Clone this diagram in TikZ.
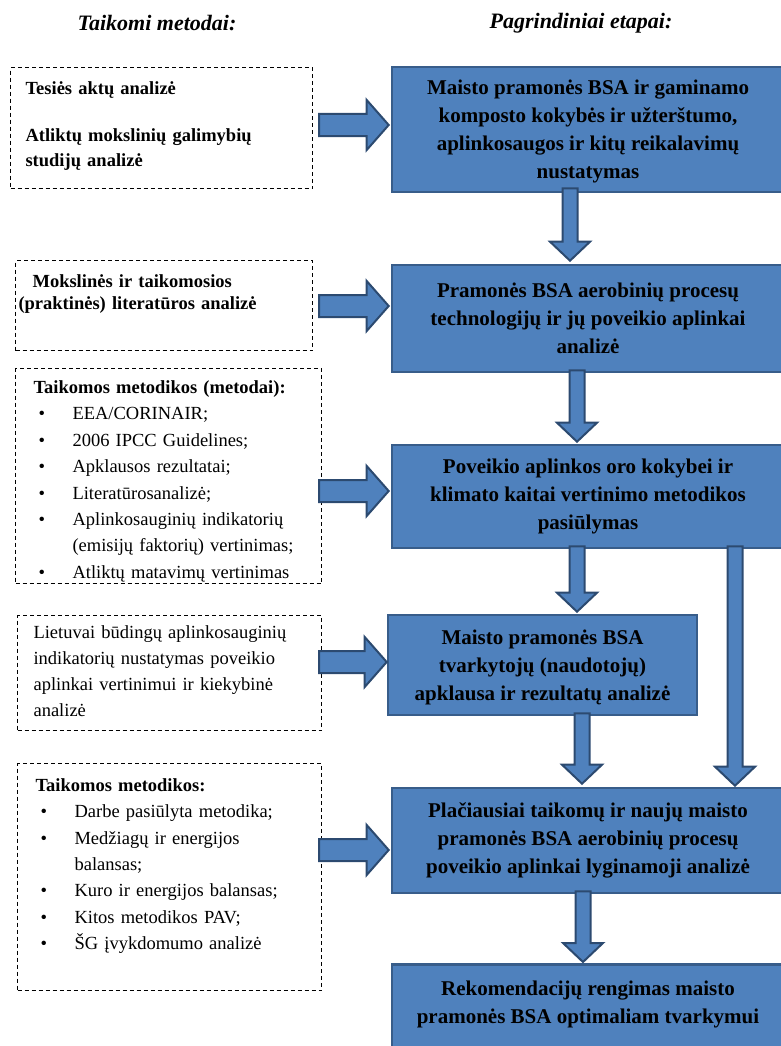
\documentclass[tikz,border=0pt]{standalone}
\usepackage{fontspec}
\setmainfont{Liberation Serif}
\usepackage{tikz}
\usetikzlibrary{calc}
\definecolor{stagefill}{HTML}{4F81BD}
\definecolor{stageline}{HTML}{385D8A}
\definecolor{arrowline}{HTML}{2C4A70}
\tikzstyle{Stage}=[rectangle, fill=stagefill, draw=stageline, line width=2.6, minimum width=392, inner sep=6, align=center, font=\fontsize{21}{28}\selectfont\bfseries]
\tikzstyle{Method}=[rectangle, draw=black, dash pattern=on 4pt off 3pt, line width=1.1, anchor=north west, align=left, text height=13, font=\fontsize{18.5}{25}\selectfont]
\tikzstyle{Blockarrow}=[fill=stagefill, draw=arrowline, line width=2, line join=miter]
\tikzstyle{Heading}=[font=\fontsize{22}{26}\selectfont\bfseries\itshape]
\newcommand{\bul}{\hspace*{5pt}\makebox[34pt][l]{\textbullet}}
\newcommand{\cont}{\hspace*{39pt}}
\newcommand{\fatright}[2]{%
  \draw[Blockarrow] let \p1=(#1), \p2=(#2) in
    (\x1,\y2+11pt) -- (\x2-22pt,\y2+11pt) -- (\x2-22pt,\y2+25pt) -- (\p2)
    -- (\x2-22pt,\y2-25pt) -- (\x2-22pt,\y2-11pt) -- (\x1,\y2-11pt) -- cycle;}
\newcommand{\fatdown}[2]{%
  \draw[Blockarrow] let \p1=(#1), \p2=(#2) in
    (\x2-7.5pt,\y1) -- (\x2-7.5pt,\y2+19pt) -- (\x2-20pt,\y2+19pt) -- (\p2)
    -- (\x2+20pt,\y2+19pt) -- (\x2+7.5pt,\y2+19pt) -- (\x2+7.5pt,\y1) -- cycle;}

\begin{document}
\begin{tikzpicture}[x=1pt, y=-1pt]
    \useasboundingbox (0,0) rectangle (781,1046);
    \path
    (157,23) node[Heading] (lefttitle) {Taikomi metodai:}
    (581,23) node[Heading] (righttitle) {Pagrindiniai etapai:};

    % pagrindiniai etapai
    \path
    (588,129.5) node[Stage, minimum height=125, text depth=-6] (req) {Maisto pramonės BSA ir gaminamo\\ komposto kokybės ir užterštumo,\\ aplinkosaugos ir kitų reikalavimų\\ nustatymas}
    (588,318.5) node[Stage, minimum height=107] (tech) {Pramonės BSA aerobinių procesų\\ technologijų ir jų poveikio aplinkai\\ analizė}
    (588,496.5) node[Stage, minimum height=103] (method) {Poveikio aplinkos oro kokybei ir\\ klimato kaitai vertinimo metodikos\\ pasiūlymas}
    (542.5,665) node[Stage, minimum width=309, minimum height=100, text depth=-6] (survey) {Maisto pramonės BSA\\ tvarkytojų (naudotojų)\\ apklausa ir rezultatų analizė}
    (588,840.5) node[Stage, minimum height=105] (compare) {Plačiausiai taikomų ir naujų maisto\\ pramonės BSA aerobinių procesų\\ poveikio aplinkai lyginamoji analizė}
    (588,963) node[Stage, anchor=north, inner ysep=17, text depth=80] (recom) {Rekomendacijų rengimas maisto\\ pramonės BSA optimaliam tvarkymui};

    % taikomi metodai
    \path
    (10,67) node[Method, text width=272, inner xsep=15, inner ysep=14, text depth=80, font=\fontsize{18.5}{25}\selectfont\bfseries] (law) {Tesiės aktų analizė\\[22pt] Atliktų mokslinių galimybių\\ studijų analizė}
    (15,260) node[Method, text width=291, inner xsep=3, inner ysep=14, text depth=49, font=\fontsize{18.5}{22}\selectfont\bfseries] (lit) {\hspace*{14pt}Mokslinės ir taikomosios\\ (praktinės) literatūros analizė}
    (15,368) node[Method, text width=270, inner xsep=18, inner ysep=12, text depth=178, font=\fontsize{18.5}{26.4}\selectfont] (calc) {\textbf{Taikomos metodikos (metodai):}\\ \bul EEA/CORINAIR;\\ \bul 2006 IPCC Guidelines;\\ \bul Apklausos rezultatai;\\ \bul Literatūrosanalizė;\\ \bul Aplinkosauginių indikatorių\\ \cont (emisijų faktorių) vertinimas;\\ \bul Atliktų matavimų vertinimas}
    (17,615) node[Method, text width=272, inner xsep=16, inner ysep=10, text depth=82, font=\fontsize{18.5}{26}\selectfont] (indic) {Lietuvai būdingų aplinkosauginių\\ indikatorių nustatymas poveikio\\ aplinkai vertinimui ir kiekybinė\\ analizė}
    (17,763) node[Method, text width=268, inner xsep=18, inner ysep=15, text depth=184, font=\fontsize{18.5}{26.3}\selectfont] (tools) {\textbf{Taikomos metodikos:}\\ \bul Darbe pasiūlyta metodika;\\ \bul Medžiagų ir energijos\\ \cont balansas;\\ \bul Kuro ir energijos balansas;\\ \bul Kitos metodikos PAV;\\ \bul ŠG įvykdomumo analizė};

    % rodykles
    \fatright{[xshift=6pt]law.east}{[yshift=4.5pt,xshift=-2pt]req.west}
    \fatright{[xshift=6pt]lit.east}{[yshift=12.5pt,xshift=-2pt]tech.west}
    \fatright{[xshift=-3pt]calc.east}{[yshift=5.5pt,xshift=-2pt]method.west}
    \fatright{[xshift=-3pt]indic.east}{[yshift=3pt]survey.west}
    \fatright{[xshift=-3pt]tools.east}{[yshift=-9.5pt,xshift=-2pt]compare.west}

    \fatdown{[yshift=5pt]req.south}{[xshift=-18pt,yshift=3pt]tech.north}
    \fatdown{[yshift=3pt]tech.south}{[xshift=-11pt,yshift=2pt]method.north}
    \fatdown{[yshift=3pt]method.south}{[xshift=34.5pt,yshift=2pt]survey.north}
    \fatdown{[yshift=3pt]method.south}{[xshift=147pt,yshift=1pt]compare.north}
    \fatdown{[yshift=3pt]survey.south}{[xshift=-6pt,yshift=3pt]compare.north}
    \fatdown{[yshift=3pt]compare.south}{[xshift=-5pt,yshift=1pt]recom.north}
\end{tikzpicture}
\end{document}
